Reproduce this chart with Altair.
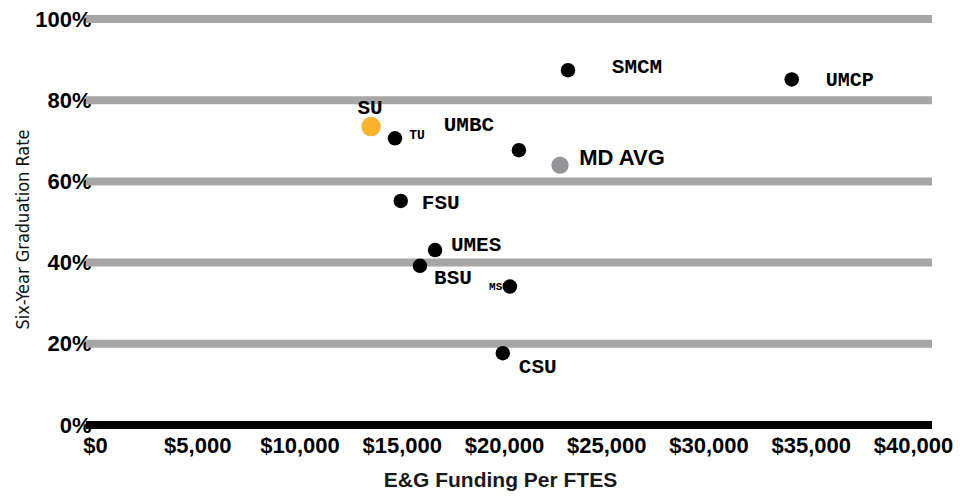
import altair as alt
import pandas as pd

# ---- data ----
names = ["SU", "TU", "UMBC", "MD AVG", "SMCM", "UMCP", "FSU", "UMES", "BSU", "MSU", "CSU"]
funding = [13500, 14670, 20730, 22740, 23130, 34070, 14950, 16630, 15890, 20290, 19940]
grad_rate = [73.5, 70.6, 67.7, 64.0, 87.4, 85.1, 55.2, 43.1, 39.2, 34.1, 17.7]
group = ["SU", "other", "other", "avg", "other", "other", "other", "other", "other", "other", "other"]

grid_levels = [20, 40, 60, 80, 100]
base_level = [0]
x_ticks = [0, 5000, 10000, 15000, 20000, 25000, 30000, 35000, 40000]
y_ticks = [0, 20, 40, 60, 80, 100]

df = pd.DataFrame({"name": names, "funding": funding, "grad": grad_rate, "group": group})
grid_df = pd.DataFrame({"grad": grid_levels})
base_df = pd.DataFrame({"grad": base_level})

# ---- label styles: (name, dx, dy, font, size) ----
MONO = "Liberation Mono"
SANS = "Liberation Sans"
label_styles = [
    ("SU", -1, -19, MONO, 21),
    ("TU", 22, -3, MONO, 13),
    ("UMBC", -50, -25, MONO, 21),
    ("MD AVG", 62, -7, SANS, 22),
    ("SMCM", 69, -3, MONO, 21),
    ("UMCP", 58, 1, MONO, 20),
    ("FSU", 40, 2, MONO, 21),
    ("UMES", 41, -5, MONO, 21),
    ("BSU", 33, 12, MONO, 21),
    ("MSU", -11, 0, MONO, 11),
    ("CSU", 35, 14, MONO, 21),
]

PLOT_W, PLOT_H = 818, 406

x_enc = alt.X(
    "funding:Q",
    scale=alt.Scale(domain=[0, 40000], nice=False, zero=False),
    axis=alt.Axis(
        values=x_ticks, format="$,.0f", title="E&G Funding Per FTES",
        grid=False, domain=False, ticks=False,
        labelFont=SANS, labelFontSize=22, labelFontWeight="bold", labelColor="#000000",
        labelPadding=10, labelOverlap=False, labelFlush=False,
        titleFont=SANS, titleFontSize=21, titleFontWeight="bold", titleColor="#1a1a1a",
        titleX=405, titleY=61, titleAlign="center", titleBaseline="alphabetic",
    ),
)
y_enc = alt.Y(
    "grad:Q",
    scale=alt.Scale(domain=[0, 100], nice=False, zero=False),
    axis=alt.Axis(
        values=y_ticks, labelExpr="datum.value + '%'", title="Six-Year Graduation Rate",
        grid=False, domain=False, ticks=False,
        labelFont=SANS, labelFontSize=22, labelFontWeight="bold", labelColor="#000000",
        labelPadding=4, labelBaseline="middle",
        titleFont="DejaVu Sans Condensed",
        titleFontSize=18, titleFontWeight="normal", titleColor="#111111",
        titleX=-72, titleY=210, titleAngle=270, titleAlign="center", titleBaseline="middle",
    ),
)

grid = alt.Chart(grid_df).mark_rule(color="#a6a6a6", strokeWidth=8).encode(
    y=y_enc, x=alt.value(-9), x2=alt.value(837)
)
base = alt.Chart(base_df).mark_rule(color="#000000", strokeWidth=8).encode(
    y=y_enc, x=alt.value(-9), x2=alt.value(837)
)

labels = []
for name, dx, dy, font, size in label_styles:
    labels.append(
        alt.Chart(df).transform_filter(alt.datum.name == name).mark_text(
            dx=dx, dy=dy, font=font, fontSize=size, fontWeight="bold",
            align="center", baseline="middle", color="#000000",
        ).encode(x=x_enc, y=y_enc, text="name:N")
    )

points = alt.Chart(df).mark_circle(opacity=1).encode(
    x=x_enc, y=y_enc,
    color=alt.Color("group:N", scale=alt.Scale(domain=["SU", "avg", "other"],
                                               range=["#F7B32B", "#939598", "#000000"]), legend=None),
    size=alt.Size("group:N", scale=alt.Scale(domain=["SU", "avg", "other"],
                                             range=[380, 210, 185]), legend=None),
)

chart = alt.layer(grid, base, *labels, points).properties(
    width=PLOT_W, height=PLOT_H,
    autosize=alt.AutoSizeParams(type="none"),
    padding={"left": 87, "top": 11, "right": 50, "bottom": 66},
).configure_view(stroke=None)

chart.save("out.html", embed_options={"renderer": "svg", "actions": False})
